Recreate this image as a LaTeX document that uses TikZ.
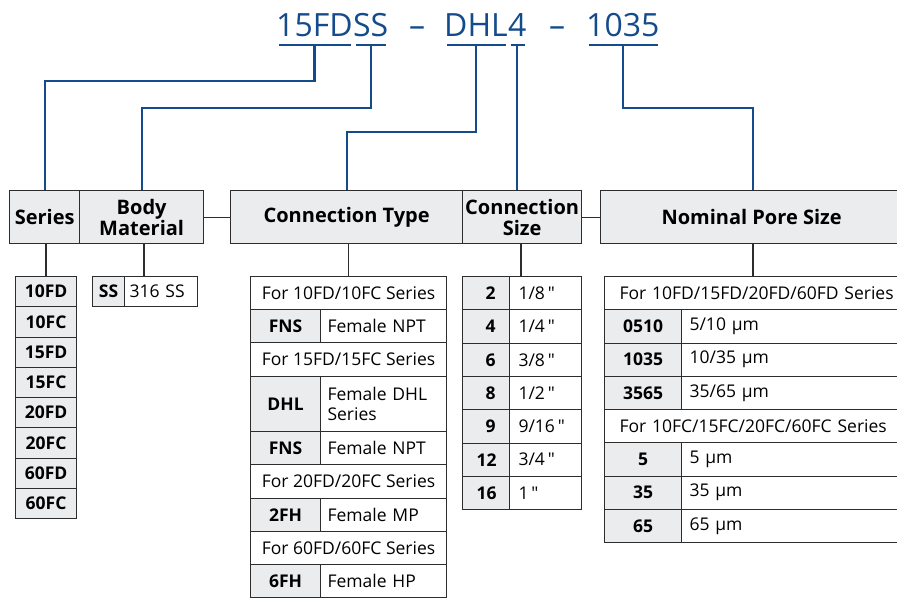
\documentclass[tikz,border=0pt]{standalone}
\usepackage{fontspec}
\setmainfont{Open Sans}[Ligatures=TeXOff]
\definecolor{codeblue}{RGB}{20,75,140}
\definecolor{cellgray}{RGB}{235,236,237}
\definecolor{rulegray}{RGB}{45,45,45}
\begin{document}
\begin{tikzpicture}[x=1pt,y=-1pt,font=\fontsize{17.5}{20}\selectfont,
  hdr/.style={draw=rulegray,fill=cellgray,line width=1.3pt,inner sep=0pt,anchor=north west,minimum height=53pt,align=center,font=\fontsize{20}{21}\selectfont\bfseries},
  keycell/.style={draw=rulegray,fill=cellgray,line width=1.1pt,inner sep=0pt,anchor=north west,font=\fontsize{17.5}{20}\selectfont\bfseries},
  valcell/.style={draw=rulegray,fill=white,line width=1.1pt,inner ysep=0pt,anchor=north west,align=left},
  notecell/.style={draw=rulegray,fill=white,line width=1.1pt,inner sep=0pt,anchor=north west},
  title/.style={anchor=base west,inner sep=0pt,text depth=8.5pt,text=codeblue,font=\fontsize{32}{32}\selectfont},
  link/.style={codeblue,line width=2.2pt},
  tie/.style={rulegray,line width=1.3pt}]
\useasboundingbox (0,0) rectangle (897,598);
% part number
\node[title] (t15) at (276,36) {15FD};
\node[title] (tss) at (t15.base east) {SS};
\node[title] (d1) at (409,36) {–};
\node[title] (tdhl) at (444,36) {DHL};
\node[title] (t4) at (tdhl.base east) {4};
\node[title] (d2) at (549,36) {–};
\node[title] (t1035) at (586,36) {1035};
\foreach \t in {t15,tss,tdhl,t4,t1035}
  \draw[link,shorten <=3pt,shorten >=2pt] (\t.south west) -- (\t.south east);
% headers
\node[hdr,minimum width=70pt] (series) at (9,190) {Series};
\node[hdr,minimum width=124pt] (body) at (79,190) {Body\\Material};
\node[hdr,minimum width=232pt] (ctype) at (230,190) {Connection Type};
\node[hdr,minimum width=119pt] (csize) at (462,190) {Connection\\Size};
\node[hdr,minimum width=312pt] (pore) at (600,190) {Nominal Pore Size\hspace*{10pt}};
\draw[tie] (body.east) -- (ctype.west);
\draw[tie] (csize.east) -- (pore.west);
% links from the code
\coordinate (portop) at (753,190);
\draw[link] (t15.south) |- (series.north |- 0,81) -- (series.north);
\draw[link] (tss.south) |- (body.north |- 0,108) -- (body.north);
\draw[link] (tdhl.south) |- (ctype.north |- 0,132) -- (ctype.north);
\draw[link] (t4.south) -- (t4.south |- csize.north);
\draw[link] (t1035.south) |- (portop |- 0,108) -- (portop);
% series
\foreach \s [count=\i] in {10FD,10FC,15FD,15FC,20FD,20FC,60FD,60FC}
  \node[keycell,minimum width=61pt,minimum height=30.25pt] (ser\i) at (15,{276+(\i-1)*30.25}) {\s};
\draw[tie] (ser1.north) -- (ser1.north |- series.south);
% body material
\node[keycell,minimum width=32pt,minimum height=30pt] (ss) at (92,276) {SS};
\node[valcell,inner xsep=5pt,text width=63pt,minimum height=30pt] (ssv) at (124,276) {316 SS};
\coordinate (sstop) at (144,276);
\draw[tie] (sstop) -- (sstop |- body.south);
% connection type
\node[notecell,minimum width=196pt,minimum height=33pt] (ct1) at (250,276) {For 10FD/10FC Series};
\node[keycell,minimum width=70pt,minimum height=33pt] (ct2) at (250,309) {FNS};
\node[valcell,inner xsep=7pt,text width=112pt,minimum height=33pt] (ct2v) at (320,309) {Female NPT};
\node[notecell,minimum width=196pt,minimum height=34pt] (ct3) at (250,342) {For 15FD/15FC Series};
\node[keycell,minimum width=70pt,minimum height=55pt] (ct4) at (250,376) {DHL};
\node[valcell,inner xsep=7pt,text width=112pt,minimum height=55pt] (ct4v) at (320,376) {Female DHL\\Series};
\node[keycell,minimum width=70pt,minimum height=33pt] (ct5) at (250,431) {FNS};
\node[valcell,inner xsep=7pt,text width=112pt,minimum height=33pt] (ct5v) at (320,431) {Female NPT};
\node[notecell,minimum width=196pt,minimum height=34pt] (ct6) at (250,464) {For 20FD/20FC Series};
\node[keycell,minimum width=70pt,minimum height=33pt] (ct7) at (250,498) {2FH};
\node[valcell,inner xsep=7pt,text width=112pt,minimum height=33pt] (ct7v) at (320,498) {Female MP};
\node[notecell,minimum width=196pt,minimum height=33pt] (ct8) at (250,531) {For 60FD/60FC Series};
\node[keycell,minimum width=70pt,minimum height=33pt] (ct9) at (250,564) {6FH};
\node[valcell,inner xsep=7pt,text width=112pt,minimum height=33pt] (ct9v) at (320,564) {Female HP};
\draw[tie] (ct1.north) -- (ct1.north |- ctype.south);
% connection size
\foreach \n/\d [count=\i] in {2/{1/8\,"},4/{1/4\,"},6/{3/8\,"},8/{1/2\,"},9/{9/16\,"},12/{3/4\,"},16/{1\,"}} {
  \node[keycell,inner xsep=14pt,text width=19pt,align=right,minimum height=33.3pt] (cs\i) at (462,{276+(\i-1)*33.3}) {\n};
  \node[valcell,inner xsep=9pt,text width=54pt,minimum height=33.3pt] (csv\i) at (509,{276+(\i-1)*33.3}) {\d};
}
\coordinate (cstop) at (521,276);
\draw[tie] (cstop) -- (cstop |- csize.south);
% nominal pore size
\node[valcell,inner xsep=15pt,text width=280pt,minimum height=33.25pt] (pn1) at (604,276) {For 10FD/15FD/20FD/60FD Series};
\foreach \k/\v [count=\i] in {0510/{5/10 µm},1035/{10/35 µm},3565/{35/65 µm}} {
  \node[keycell,minimum width=77pt,minimum height=33.25pt] (pk\i) at (604,{309.25+(\i-1)*33.25}) {\k};
  \node[valcell,inner xsep=8pt,text width=217pt,minimum height=33.25pt] (pv\i) at (681,{309.25+(\i-1)*33.25}) {\v};
}
\node[valcell,inner xsep=15pt,text width=280pt,minimum height=33.25pt] (pn2) at (604,409) {For 10FC/15FC/20FC/60FC Series};
\foreach \k/\v [count=\i] in {5/{5 µm},35/{35 µm},65/{65 µm}} {
  \node[keycell,minimum width=77pt,minimum height=33.25pt] (pc\i) at (604,{442.25+(\i-1)*33.25}) {\k};
  \node[valcell,inner xsep=8pt,text width=217pt,minimum height=33.25pt] (pcv\i) at (681,{442.25+(\i-1)*33.25}) {\v};
}
\coordinate (pntop) at (753,276);
\draw[tie] (pntop) -- (pntop |- pore.south);
\end{tikzpicture}
\end{document}
